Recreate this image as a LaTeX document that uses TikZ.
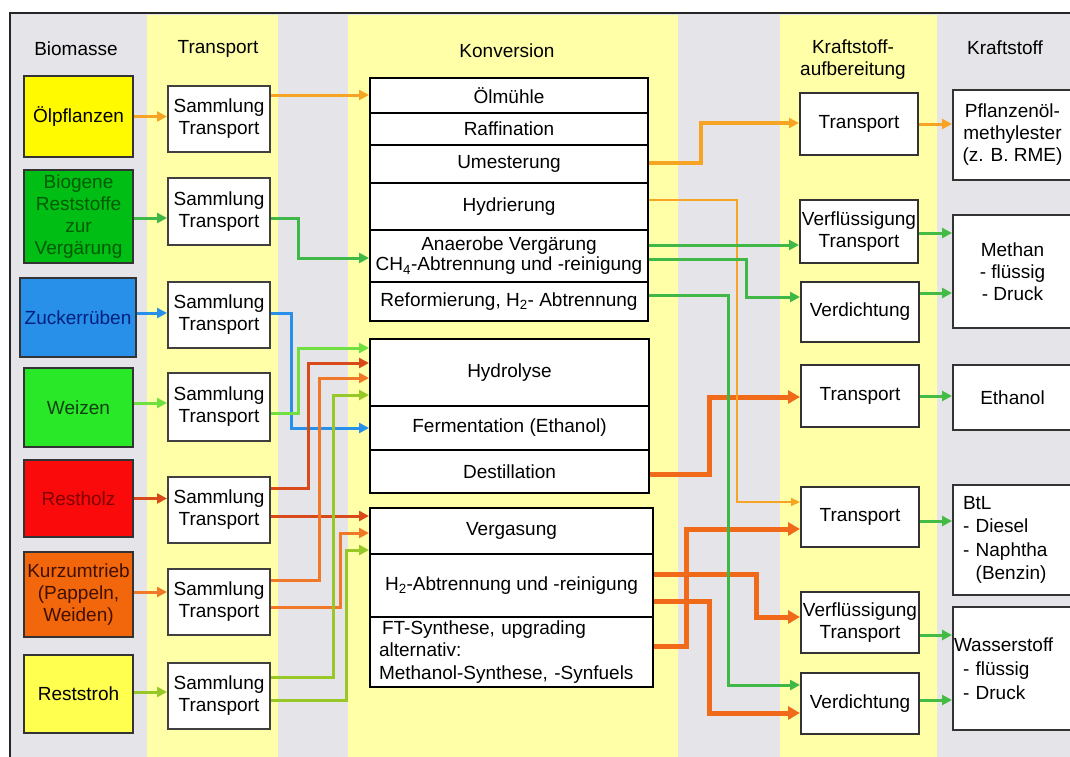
\documentclass[tikz,border=0pt]{standalone}
\usepackage{fontspec}
\setmainfont{Liberation Sans}
\usetikzlibrary{arrows.meta,calc}
\definecolor{bggray}{RGB}{229,229,233}
\definecolor{colyel}{RGB}{255,255,168}
\definecolor{oelc}{RGB}{245,165,35}
\definecolor{biogc}{RGB}{64,184,72}
\definecolor{zuckc}{RGB}{40,144,232}
\definecolor{weizc}{RGB}{112,224,64}
\definecolor{holzc}{RGB}{216,74,26}
\definecolor{kurzc}{RGB}{240,120,40}
\definecolor{strohc}{RGB}{152,200,40}
\definecolor{thickc}{RGB}{240,106,26}
\definecolor{fuelc}{RGB}{68,187,68}
\begin{document}
\begin{tikzpicture}[x=1pt,y=-1pt,
  font=\fontsize{19}{22}\selectfont,
  bio/.style={draw=black!80,line width=2pt,minimum width=109pt,inner sep=0pt,align=center},
  sam/.style={draw=black!75,fill=white,line width=2pt,minimum width=102pt,minimum height=66pt,inner sep=0pt,align=center},
  konv/.style={draw=black,fill=white,line width=2pt,minimum width=278pt,inner sep=0pt,align=center},
  auf/.style={draw=black!80,fill=white,line width=2pt,minimum width=118pt,inner sep=0pt,align=center},
  fuel/.style={draw=black!80,fill=white,line width=2pt,minimum width=119pt,inner sep=0pt,align=center},
  hdr/.style={inner sep=0pt,align=center},
  flow/.style={line width=3pt,-{Triangle[length=10pt,width=10pt]}},
  thin/.style={line width=2pt,-{Triangle[length=9pt,width=8pt]}},
  thick/.style={line width=5pt,-{Triangle[length=12pt,width=13pt]}}]
\clip (0,0) rectangle (1070,756);
% background
\fill[white] (0,0) rectangle (1070,756);
\fill[bggray] (10,13) rectangle (1075,760);
\fill[colyel] (147,15) rectangle (278,760);
\fill[colyel] (348,15) rectangle (678,760);
\fill[colyel] (780,15) rectangle (937,760);
\draw[black!85,line width=2pt] (10,13) rectangle (1075,760);
% headers
\node[hdr] (h1) at (76,49) {Biomasse};
\node[hdr] (h2) at (218,49) {Transport};
\node[hdr] (h3) at (507,51) {Konversion};
\node[hdr] (h4) at (853,60) {Kraftstoff-\\aufbereitung};
\node[hdr] (h5) at (1005,48) {Kraftstoff};
% biomass
\node[bio,fill={rgb,255:red,255;green,250;blue,0},minimum height=81pt] (b1) at (78.5,116.5) {Ölpflanzen};
\node[bio,fill={rgb,255:red,0;green,190;blue,20},text={rgb,255:red,0;green,90;blue,0},minimum height=93pt] (b2) at (78.5,216.5) {Biogene\\Reststoffe\\zur\\Vergärung};
\node[bio,fill=zuckc,text={rgb,255:red,0;green,32;blue,128},minimum width=116pt,minimum height=79pt] (b3) at (78,317.5) {Zuckerrüben};
\node[bio,fill={rgb,255:red,40;green,232;blue,40},text={rgb,255:red,16;green,64;blue,16},minimum height=79pt] (b4) at (78.5,407.5) {Weizen};
\node[bio,fill={rgb,255:red,250;green,10;blue,10},text={rgb,255:red,128;green,0;blue,0},minimum height=77pt] (b5) at (78.5,498.5) {Restholz};
\node[bio,fill={rgb,255:red,242;green,102;blue,12},text={rgb,255:red,64;green,16;blue,0},minimum height=85pt] (b6) at (78.5,594.5) {Kurzumtrieb\\(Pappeln,\\Weiden)};
\node[bio,fill={rgb,255:red,255;green,255;blue,80},minimum height=78pt] (b7) at (78.5,694) {Reststroh};
% Sammlung
\node[sam] (s1) at (219,119) {Sammlung\\Transport};
\node[sam,minimum height=67pt] (s2) at (219,211.5) {Sammlung\\Transport};
\node[sam] (s3) at (219,315) {Sammlung\\Transport};
\node[sam,minimum height=68pt] (s4) at (219,407) {Sammlung\\Transport};
\node[sam] (s5) at (219,510) {Sammlung\\Transport};
\node[sam] (s6) at (219,602) {Sammlung\\Transport};
\node[sam] (s7) at (219,696) {Sammlung\\Transport};
% Konversion
\node[konv,minimum height=35pt] (k1) at (509,95.5) {Ölmühle};
\node[konv,minimum height=32pt] (k2) at (509,129) {Raffination};
\node[konv,minimum height=38pt] (k3) at (509,164) {Umesterung};
\node[konv,minimum height=47pt] (k4) at (509,206.5) {Hydrierung};
\node[konv,minimum height=52pt,font=\fontsize{19}{20}\selectfont] (k5) at (509,256) {Anaerobe Vergärung\\CH\textsubscript{4}-Abtrennung und -reinigung};
\node[konv,minimum height=39pt] (k6) at (509,301.5) {Reformierung, H\textsubscript{2}- Abtrennung};
\node[konv,minimum width=279pt,minimum height=67pt] (k7) at (509.5,372.5) {Hydrolyse};
\node[konv,minimum width=279pt,minimum height=44pt] (k8) at (509.5,428) {Fermentation (Ethanol)};
\node[konv,minimum width=279pt,minimum height=43pt] (k9) at (509.5,471.5) {Destillation};
\node[konv,minimum width=283pt,minimum height=46pt] (k10) at (511.5,531) {Vergasung};
\node[konv,minimum width=283pt,minimum height=63pt] (k11) at (511.5,585.5) {H\textsubscript{2}-Abtrennung und -reinigung};
\node[konv,minimum width=283pt,minimum height=70pt,text width=265pt,inner xsep=9pt,align=left,font=\fontsize{19}{22.5}\selectfont] (k12) at (511.5,652) {\hspace*{3pt}FT-Synthese, upgrading\\alternativ:\\Methanol-Synthese, -Synfuels};
% Aufbereitung
\node[auf,minimum height=62pt] (a1) at (859,124) {Transport};
\node[auf,minimum height=63pt] (a2) at (859,231.5) {Verflüssigung\\Transport};
\node[auf,minimum height=60pt] (a3) at (860,312) {Verdichtung};
\node[auf,minimum height=62pt] (a4) at (860,396) {Transport};
\node[auf,minimum height=60pt] (a5) at (860,517) {Transport};
\node[auf,minimum height=61pt] (a6) at (860,622.5) {Verflüssigung\\Transport};
\node[auf,minimum height=61pt] (a7) at (860,703.5) {Verdichtung};
% Kraftstoff
\node[fuel,minimum height=90pt] (f1) at (1012.5,135) {Pflanzenöl-\\methylester\\(z. B. RME)};
\node[fuel,minimum height=113pt] (f2) at (1012.5,271.5) {Methan\\- flüssig\\- Druck};
\node[fuel,minimum height=65pt] (f3) at (1012.5,397.5) {Ethanol};
\node[fuel,minimum height=110pt,text width=99pt,inner xsep=10pt,align=left,font=\fontsize{19}{23.5}\selectfont] (f4) at (1012.5,540) {BtL\\- Diesel\\- Naphtha\\\phantom{- }(Benzin)};
\node[fuel,minimum height=123pt,text width=99pt,inner xsep=10pt,align=left,font=\fontsize{19}{24}\selectfont] (f5) at (1012.5,668.5) {\hspace*{-9pt}Wasserstoff\\- flüssig\\- Druck};
% biomass -> Sammlung
\draw[flow,oelc] (b1.east) -- (b1.east -| s1.west);
\draw[flow,biogc] ([yshift=-1.5pt]b2.east) -- ([yshift=-1.5pt]b2.east -| s2.west);
\draw[flow,zuckc] ([yshift=4.5pt]b3.east) -- ([yshift=4.5pt]b3.east -| s3.west);
\draw[flow,weizc] ([yshift=4.5pt]b4.east) -- ([yshift=4.5pt]b4.east -| s4.west);
\draw[flow,holzc] (b5.east) -- (b5.east -| s5.west);
\draw[flow,kurzc] ([yshift=2.5pt]b6.east) -- ([yshift=2.5pt]b6.east -| s6.west);
\draw[flow,strohc] ([yshift=2pt]b7.east) -- ([yshift=2pt]b7.east -| s7.west);
% Sammlung -> Konversion
\draw[flow,oelc] ([yshift=24pt]s1.east) -- ([yshift=24pt]s1.east -| k1.west);
\draw[flow,biogc] ([yshift=-6.5pt]s2.east) -- ++(27,0) |- ([yshift=-2pt]k5.west);
\draw[flow,zuckc] ([yshift=2pt]s3.east) -- ++(20,0) |- (k8.west);
\draw[flow,weizc] ([yshift=-6pt]s4.east) -- ++(27,0) |- ([yshift=24.5pt]k7.west);
\draw[flow,holzc] ([yshift=22pt]s5.east) -- ++(37,0) |- ([yshift=9.5pt]k7.west);
\draw[flow,holzc] ([yshift=-6pt]s5.east) -- ([yshift=-6pt]s5.east -| k10.west);
\draw[flow,kurzc] ([yshift=22pt]s6.east) -- ++(48,0) |- ([yshift=-5.5pt]k7.west);
\draw[flow,kurzc] ([yshift=-5pt]s6.east) -- ++(69,0) |- ([yshift=-2pt]k10.west);
\draw[flow,strohc] ([yshift=19pt]s7.east) -- ++(62,0) |- ([yshift=-22.5pt]k7.west);
\draw[flow,strohc] ([yshift=-4pt]s7.east) -- ++(75,0) |- ([yshift=-19pt]k10.west);
% Konversion -> Aufbereitung (thick first)
\draw[thick,thickc] ([yshift=-2.5pt]k9.east) -- ++(59,0) |- ([yshift=-1pt]a4.west);
\draw[thick,thickc] ([yshift=6pt]k12.east) -- ++(32,0) |- ([yshift=-12pt]a5.west);
\draw[thick,thickc] ([yshift=11.5pt]k11.east) -- ++(102,0) |- ([yshift=5.5pt]a6.west);
\draw[thick,thickc] ([yshift=-15.5pt]k11.east) -- ++(55,0) |- ([yshift=-9.5pt]a7.west);
\draw[flow,oelc,line width=3.5pt] ([yshift=1pt]k3.east) -- ++(52,0) |- ([yshift=1pt]a1.west);
\draw[thin,oelc] ([yshift=6.5pt]k4.east) -- ++(88,0) |- ([yshift=15pt]a5.west);
\draw[flow,biogc] ([yshift=11pt]k5.east) -- ([yshift=11pt]k5.east -| a2.west);
\draw[flow,biogc] ([yshift=-3pt]k5.east) -- ++(97,0) |- ([yshift=15pt]a3.west);
\draw[flow,biogc] ([yshift=6.5pt]k6.east) -- ++(79,0) |- ([yshift=18.5pt]a7.west);
% Aufbereitung -> Kraftstoff
\draw[flow,oelc] (a1.east) -- (a1.east -| f1.west);
\draw[flow,fuelc] ([yshift=-1.5pt]a2.east) -- ([yshift=-1.5pt]a2.east -| f2.west);
\draw[flow,fuelc] ([yshift=19pt]a3.east) -- ([yshift=19pt]a3.east -| f2.west);
\draw[flow,fuelc] (a4.east) -- (a4.east -| f3.west);
\draw[flow,fuelc] ([yshift=-4pt]a5.east) -- ([yshift=-4pt]a5.east -| f4.west);
\draw[flow,fuelc] ([yshift=-12.5pt]a6.east) -- ([yshift=-12.5pt]a6.east -| f5.west);
\draw[flow,fuelc] ([yshift=3.5pt]a7.east) -- ([yshift=3.5pt]a7.east -| f5.west);
\end{tikzpicture}
\end{document}
